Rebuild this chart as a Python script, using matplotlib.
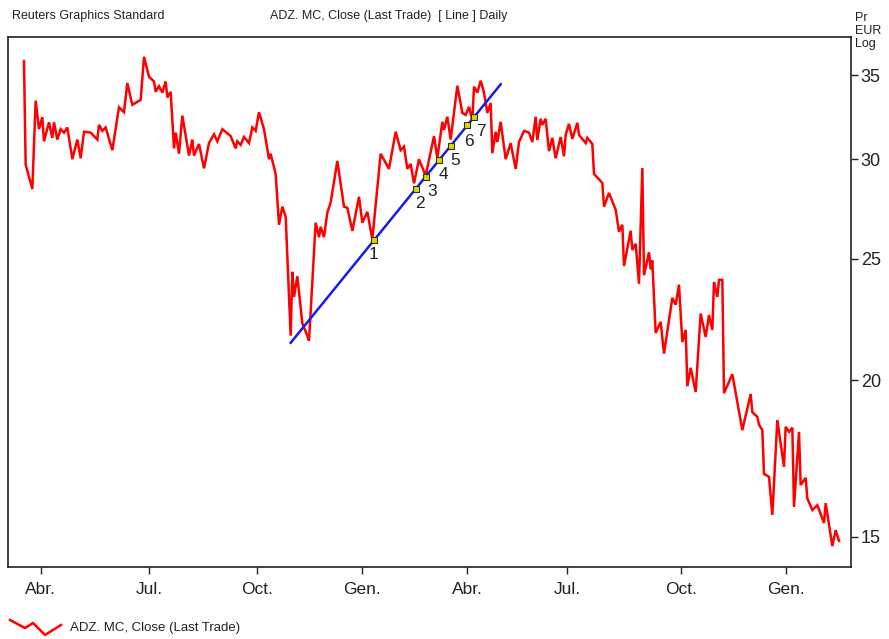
import matplotlib
matplotlib.use("Agg")
import matplotlib.pyplot as plt
import numpy as np
from matplotlib.lines import Line2D
from matplotlib.ticker import FixedLocator, NullLocator

plt.rcParams['font.family'] = ['Liberation Sans', 'DejaVu Sans']

# trading-day index of each recorded vertex of the daily close series
days = [0, 1, 5, 7, 9, 11, 12, 15, 17, 18, 20, 22, 24, 26, 29, 32, 34, 36, 40, 44,
        45, 47, 49, 53, 57, 60, 62, 65, 70, 72, 75, 78, 79, 81, 83, 85, 86, 88, 90, 91,
        93, 95, 99, 101, 102, 105, 108, 111, 114, 116, 119, 124, 127, 128, 130, 132, 135, 137, 139, 141,
        144, 147, 148, 151, 153, 155, 157, 160, 161, 162, 164, 167, 170, 171, 175, 177, 178, 180, 182, 184,
        188, 192, 194, 197, 201, 203, 206, 209, 214, 219, 223, 226, 228, 230, 232, 234, 237, 241, 246, 248,
        251, 252, 254, 256, 260, 263, 265, 267, 269, 270, 272, 274, 276, 278, 280, 281, 283, 284, 286, 289,
        292, 295, 297, 300, 303, 305, 307, 308, 310, 311, 313, 315, 317, 319, 322, 324, 325, 327, 329, 332,
        333, 337, 338, 341, 342, 347, 348, 351, 355, 357, 359, 360, 364, 365, 367, 369, 371, 372, 375, 376,
        377, 379, 382, 384, 389, 391, 393, 395, 397, 398, 400, 403, 406, 409, 411, 413, 414, 416, 417, 419,
        420, 425, 431, 436, 437, 440, 441, 443, 444, 447, 449, 452, 456, 457, 459, 461, 462, 465, 466, 469,
        470, 473, 476, 480, 481, 485, 487, 489]

close = [35.9, 29.7, 28.4, 33.4, 31.7, 32.4, 31.0, 32.1, 31.2, 32.1, 31.1, 31.7, 31.5, 31.8, 30.0, 31.1, 30.05, 31.55, 31.5, 31.1,
         31.95, 31.6, 31.8, 30.5, 33.0, 32.7, 34.5, 33.15, 33.45, 36.2, 34.9, 34.6, 33.95, 34.3, 33.9, 34.6, 33.6, 33.95, 30.6, 31.5,
         30.3, 32.5, 30.2, 31.1, 30.2, 30.85, 29.5, 30.9, 31.4, 31.0, 31.7, 31.3, 30.6, 31.0, 30.8, 31.25, 30.9, 31.8, 31.6, 32.7,
         31.7, 30.0, 30.3, 29.2, 26.6, 27.5, 27.0, 21.7, 24.4, 23.3, 24.2, 22.2, 21.7, 21.5, 26.7, 26.0, 26.5, 26.0, 27.2, 27.7,
         29.9, 27.5, 27.44, 26.3, 28.0, 26.7, 27.24, 25.9, 30.3, 29.47, 31.55, 30.5, 30.7, 29.47, 29.74, 28.7, 30.0, 29.1, 31.3, 30.05,
         32.13, 31.66, 32.43, 31.1, 34.33, 32.66, 32.54, 33.03, 32.2, 34.27, 33.9, 34.65, 33.9, 32.66, 33.26, 30.33, 31.55, 30.96, 32.13, 30.0,
         30.9, 29.47, 30.96, 31.6, 31.5, 30.96, 32.43, 31.08, 32.31, 31.95, 32.31, 30.45, 31.2, 30.05, 31.25, 30.16, 31.37, 32.01, 31.14, 32.07,
         31.37, 30.9, 31.2, 30.85, 29.2, 28.72, 27.5, 28.2, 27.34, 26.26, 26.6, 24.66, 26.31, 25.4, 25.69, 23.87, 29.52, 24.25, 25.29, 24.51,
         24.91, 21.81, 22.26, 21.0, 23.26, 22.97, 23.83, 21.45, 21.93, 19.78, 20.46, 19.57, 22.6, 21.65, 22.54, 21.93, 23.95, 23.3, 24.04, 24.04,
         19.53, 20.22, 18.25, 19.5, 18.86, 18.7, 18.43, 18.25, 16.84, 16.75, 15.62, 18.59, 17.06, 18.36, 18.19, 18.33, 15.85, 18.19, 16.5, 16.72,
         16.1, 15.76, 15.9, 15.39, 15.96, 14.75, 15.19, 14.89]

# trend line endpoints (day, price) and touch points on it
trend_days = [160, 286]
trend_prices = [21.42, 34.42]
touch_days = [210, 235, 241, 249, 256, 266, 270]
touch_labels = ['1', '2', '3', '4', '5', '6', '7']

# axis ticks
month_days = [10, 75, 140, 203, 266, 326, 394, 457]
month_labels = ['Abr.', 'Jul.', 'Oct.', 'Gen.', 'Abr.', 'Jul.', 'Oct.', 'Gen.']
price_ticks = [15, 20, 25, 30, 35]

fig = plt.figure(figsize=(8.89, 6.39), dpi=100)
ax = fig.add_axes([8 / 889, 72 / 639, 843 / 889, 530 / 639])

ax.plot(days, close, color='#FF0000', linewidth=1.8, solid_joinstyle='miter', zorder=2)
ax.plot(trend_days, trend_prices, color='#1A1AF0', linewidth=1.8, zorder=3)

# touch points lie on the trend line (log-linear)
lt = np.interp(touch_days, trend_days, np.log(trend_prices))
touch_prices = np.exp(lt)
ax.plot(touch_days, touch_prices, linestyle='none', marker='s', markersize=4.2,
        markerfacecolor='#D8D800', markeredgecolor='#333300', markeredgewidth=0.8, zorder=4)
offsets = [(0, -5), (3, -5), (5, -5), (3, -5), (3, -5), (1, -6), (5, -5)]
for d, p, lab, (dx, dy) in zip(touch_days, touch_prices, touch_labels, offsets):
    ax.annotate(lab, (d, p), xytext=(dx, dy), textcoords='offset points',
                ha='center', va='top', fontsize=12.5, color='#222222', zorder=5)

ax.set_yscale('log')
ax.set_xlim(-9.6, 496.2)
ax.set_ylim(14.196, 37.54)

ax.yaxis.set_major_locator(FixedLocator(price_ticks))
ax.yaxis.set_minor_locator(NullLocator())
ax.set_yticklabels([str(t) for t in price_ticks])
ax.yaxis.tick_right()
ax.tick_params(axis='y', which='major', direction='out', length=5, width=1,
               labelsize=13, pad=2, colors='#222222', labelcolor='#222222')

ax.set_xticks(month_days)
ax.set_xticklabels(month_labels)
ax.xaxis.set_minor_locator(NullLocator())
ax.tick_params(axis='x', which='major', direction='out', length=5, width=1,
               labelsize=12.5, pad=6, colors='#222222', labelcolor='#222222')

for s in ax.spines.values():
    s.set_color('#222222')
    s.set_linewidth(1.2)

# header texts
fig.text(12 / 889, 1 - 16 / 639, 'Reuters Graphics Standard', fontsize=9,
         ha='left', va='center', color='#222222')
fig.text(270 / 889, 1 - 16 / 639, 'ADZ. MC, Close (Last Trade)  [ Line ] Daily', fontsize=9,
         ha='left', va='center', color='#222222')
fig.text(855 / 889, 1 - 31 / 639, 'Pr\nEUR\nLog', fontsize=9, ha='left', va='center',
         color='#222222', linespacing=1.1)

# legend: zig-zag handle and label
fig.add_artist(Line2D(np.array([10, 25, 33, 45, 61]) / 889,
                      1 - np.array([620, 628, 623, 635, 625]) / 639,
                      color='#FF0000', linewidth=1.8, transform=fig.transFigure))
fig.text(70 / 889, 1 - 628 / 639, 'ADZ. MC, Close (Last Trade)', fontsize=9.5,
         ha='left', va='center', color='#222222')

fig.savefig('out.png', dpi=100)
